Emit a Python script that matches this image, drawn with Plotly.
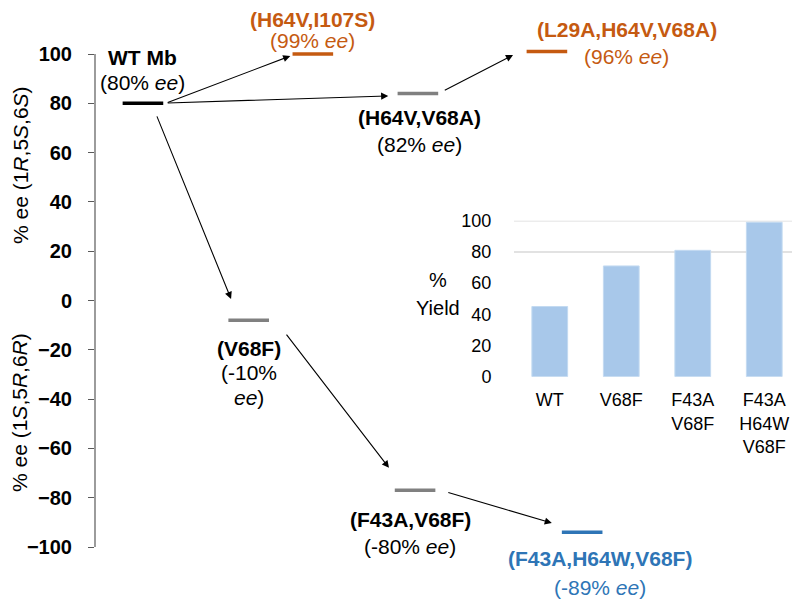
import plotly.graph_objects as go

# ---------------- data ----------------
variants = ["WT Mb", "(H64V,I107S)", "(H64V,V68A)", "(L29A,H64V,V68A)",
            "(V68F)", "(F43A,V68F)", "(F43A,H64W,V68F)"]
step_x = [6.8, 30.9, 45.8, 64.1, 21.8, 45.4, 69.1]          # horizontal step position
ee_plot = [80, 100, 84, 101, -8, -77, -94]                   # plotted % ee level
ee_label = [80, 99, 82, 96, -10, -80, -89]                   # reported % ee
step_color = ["#000000", "#C55A11", "#808080", "#C55A11", "#808080", "#808080", "#2E75B6"]

yield_cats = ["WT", "V68F", "F43A<br>V68F", "F43A<br>H64W<br>V68F"]
yield_vals = [45, 71, 81, 99]

ee_ticks = list(range(-100, 101, 20))
yield_ticks = list(range(0, 101, 20))

FONT = "Liberation Sans, Arial, sans-serif"
OFF = 8                       # page body margin
W, H = 800 - OFF, 599 - OFF


def fx(p):   # reference pixel x -> paper fraction
    return (p - OFF) / W


def fy(p):   # reference pixel y -> paper fraction
    return 1 - (p - OFF) / H


PX_PER_UNIT = (547 - 54) / 200.0
Y_TOP, Y_BOT = 102, -100
top_px = 54 - (Y_TOP - 100) * PX_PER_UNIT
bot_px = 547 + (-100 - Y_BOT) * PX_PER_UNIT

fig = go.Figure()

for i in range(len(variants)):
    fig.add_trace(go.Scatter(
        x=[step_x[i]], y=[ee_plot[i]], mode="markers",
        marker=dict(symbol="line-ew", size=29,
                    line=dict(width=3.5, color=step_color[i])),
        showlegend=False, hoverinfo="skip", xaxis="x", yaxis="y",
        cliponaxis=False))

fig.add_trace(go.Bar(
    x=yield_cats, y=yield_vals, width=0.5,
    marker=dict(color="#A8C8EA", line=dict(color="#C3DAF1", width=1)),
    xaxis="x2", yaxis="y2", showlegend=False, hoverinfo="skip"))

ann = []

label_layout = {
    0: dict(xs=0, name_dy=46, val_dy=[21]),
    1: dict(xs=0, name_dy=35, val_dy=[14]),
    2: dict(xs=2, name_dy=-24, val_dy=[-51]),
    3: dict(xs=80, name_dy=22, val_dy=[-5]),
    4: dict(xs=0, name_dy=-28, val_dy=[-52, -77]),
    5: dict(xs=-5, name_dy=-29, val_dy=[-56]),
    6: dict(xs=18, name_dy=-26, val_dy=[-55]),
}
for i, v in enumerate(variants):
    c = "#000000" if step_color[i] in ("#000000", "#808080") else step_color[i]
    L = label_layout[i]
    ann.append(dict(x=step_x[i], y=ee_plot[i], xref="x", yref="y",
                    text="<b>%s</b>" % v, showarrow=False,
                    xshift=L["xs"], yshift=L["name_dy"],
                    font=dict(family=FONT, size=21, color=c)))
    if len(L["val_dy"]) == 1:
        lines = ["(%d%% <i>ee</i>)" % ee_label[i]]
    else:
        lines = ["(%d%%" % ee_label[i], "<i>ee</i>)"]
    for t, dy in zip(lines, L["val_dy"]):
        ann.append(dict(x=step_x[i], y=ee_plot[i], xref="x", yref="y",
                        text=t, showarrow=False,
                        xshift=L["xs"], yshift=dy,
                        font=dict(family=FONT, size=21, color=c)))

arrows = [
    ((10.1, 80.1), (27.7, 99.2)),
    ((10.1, 80.1), (41.6, 83.0)),
    ((8.7, 75.3), (19.3, 0.6)),
    ((49.4, 85.0), (59.3, 99.6)),
    ((27.0, -13.2), (41.7, -67.9)),
    ((49.9, -77.7), (64.8, -90.3)),
]
for (tx, ty), (hx, hy) in arrows:
    ann.append(dict(x=hx, y=hy, ax=tx, ay=ty, xref="x", yref="y",
                    axref="x", ayref="y", text="", showarrow=True,
                    arrowhead=2, arrowsize=1.3, arrowwidth=1.1,
                    arrowcolor="#000000", standoff=0, startstandoff=0))

ann.append(dict(x=fx(20), y=fy(165), xref="paper", yref="paper",
                xanchor="center", yanchor="middle",
                text="% ee (1<i>R</i>,5<i>S</i>,6<i>S</i>)", textangle=-90,
                showarrow=False, font=dict(family=FONT, size=21, color="#000")))
ann.append(dict(x=fx(20), y=fy(413), xref="paper", yref="paper",
                xanchor="center", yanchor="middle",
                text="% ee (1<i>S</i>,5<i>R</i>,6<i>R</i>)", textangle=-90,
                showarrow=False, font=dict(family=FONT, size=21, color="#000")))
ann.append(dict(x=fx(438), y=fy(280), xref="paper", yref="paper", text="%",
                xanchor="center", yanchor="middle",
                showarrow=False, font=dict(family=FONT, size=20, color="#000")))
ann.append(dict(x=fx(438), y=fy(308), xref="paper", yref="paper", text="Yield",
                xanchor="center", yanchor="middle",
                showarrow=False, font=dict(family=FONT, size=20, color="#000")))

shapes = []
for g in (80, 100):
    shapes.append(dict(type="line", xref="x2 domain", yref="y2",
                       x0=0, x1=1, y0=g, y1=g, layer="below",
                       line=dict(color="#D9D9D9", width=1.5)))
shapes.append(dict(type="line", xref="paper", yref="y", x0=fx(95), x1=fx(95),
                   y0=ee_ticks[0], y1=ee_ticks[-1],
                   line=dict(color="#595959", width=1.2)))

fig.update_layout(
    width=W, height=H, margin=dict(l=0, r=0, t=0, b=0, autoexpand=False),
    paper_bgcolor="white", plot_bgcolor="rgba(0,0,0,0)",
    showlegend=False,
    xaxis=dict(domain=[fx(95), 1], range=[0, 100], visible=False, fixedrange=True,
               automargin=False),
    yaxis=dict(domain=[fy(bot_px), fy(top_px)], range=[Y_BOT, Y_TOP],
               tickvals=ee_ticks, showgrid=False, zeroline=False,
               showline=False, automargin=False,
               ticks="outside", ticklen=6, tickcolor="#595959", tickwidth=1.2,
               ticklabelstandoff=12,
               tickfont=dict(family=FONT, size=20, color="#000", weight="bold")),
    xaxis2=dict(domain=[fx(514), 1], anchor="y2", showline=False, showgrid=False,
                zeroline=False, ticks="outside", ticklen=7, automargin=False,
                tickcolor="rgba(0,0,0,0)",
                tickfont=dict(family=FONT, size=18, color="#000")),
    yaxis2=dict(domain=[fy(376.7), fy(220.7)], anchor="x2", range=[0, 100],
                tickvals=yield_ticks, showgrid=False, zeroline=False, showline=False,
                ticks="outside", ticklen=18, tickcolor="rgba(0,0,0,0)",
                automargin=False,
                tickfont=dict(family=FONT, size=18, color="#000")),
    annotations=ann, shapes=shapes,
)

fig.write_html("out.html")
